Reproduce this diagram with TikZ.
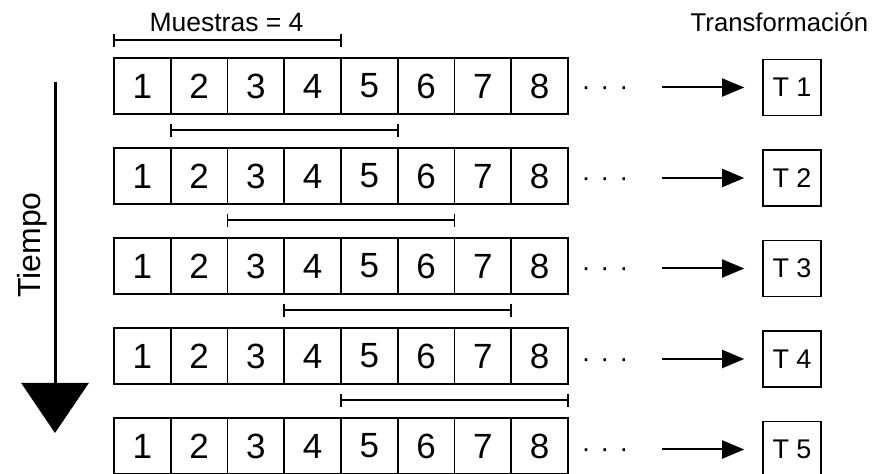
\documentclass[tikz,border=0pt]{standalone}
\usepackage{fontspec}
\setmainfont{Liberation Sans}
\usetikzlibrary{arrows.meta,calc}
\begin{document}
\begin{tikzpicture}[x=1pt,y=1pt,
 cell/.style={draw,line width=1.8pt,minimum width=56.75pt,minimum height=56pt,inner sep=0pt,font=\fontsize{35}{40}\selectfont},
 tbox/.style={draw,line width=1.6pt,minimum width=58pt,minimum height=56pt,inner sep=0pt,font=\fontsize{27}{31}\selectfont},
 bracket/.style={line width=1.7pt,{Bar[width=13pt]}-{Bar[width=13pt]}},
 flow/.style={line width=2pt,-{Triangle[length=22pt,width=18pt]},shorten >=18pt},
 lbl/.style={font=\fontsize{26.5}{30}\selectfont,anchor=base,inner sep=0pt},
 dots/.style={font=\fontsize{27}{30}\selectfont,anchor=base,inner sep=0pt}]
\useasboundingbox (0,0) rectangle (879,474);
\foreach \r in {1,...,5}{
  \pgfmathsetmacro\yc{388-90*(\r-1)}
  \pgfmathsetmacro\ty{474-87.5-90.5*(\r-1)}
  \pgfmathtruncatemacro\e{\r+3}
  \foreach \k in {1,...,8}{
    \node[cell] (c\r\k) at ({114+56.75*(\k-0.5)},\yc) {\k};
  }
  \node[tbox] (t\r) at (792,\ty) {T \r};
  \node[dots] (d\r) at (605,\ty-8.5) {\makebox[19pt]{·}\makebox[19pt]{·}\makebox[19pt]{·}};
  \coordinate (a\r) at (662,\ty);
  \draw[flow] (a\r) -- (t\r.west);
  \draw[bracket] ($(c\r\r.north west)+(0,17)$) -- ($(c\r\e.north east)+(0,17)$);
}
\node[lbl] (muestras) at (226.5,442) {Muestras = 4};
\node[lbl,font=\fontsize{25.7}{30}\selectfont] (transf) at (779.5,442) {Transformación};
\coordinate (ts) at (55,392);
\coordinate (te) at (55,41);
\draw[line width=3pt,-{Triangle[length=50pt,width=67pt]}] (ts) -- (te);
\node[font=\fontsize{32}{36}\selectfont,rotate=90,anchor=base,inner sep=0pt] (tiempo) at (40,229) {Tiempo};
\end{tikzpicture}
\end{document}
